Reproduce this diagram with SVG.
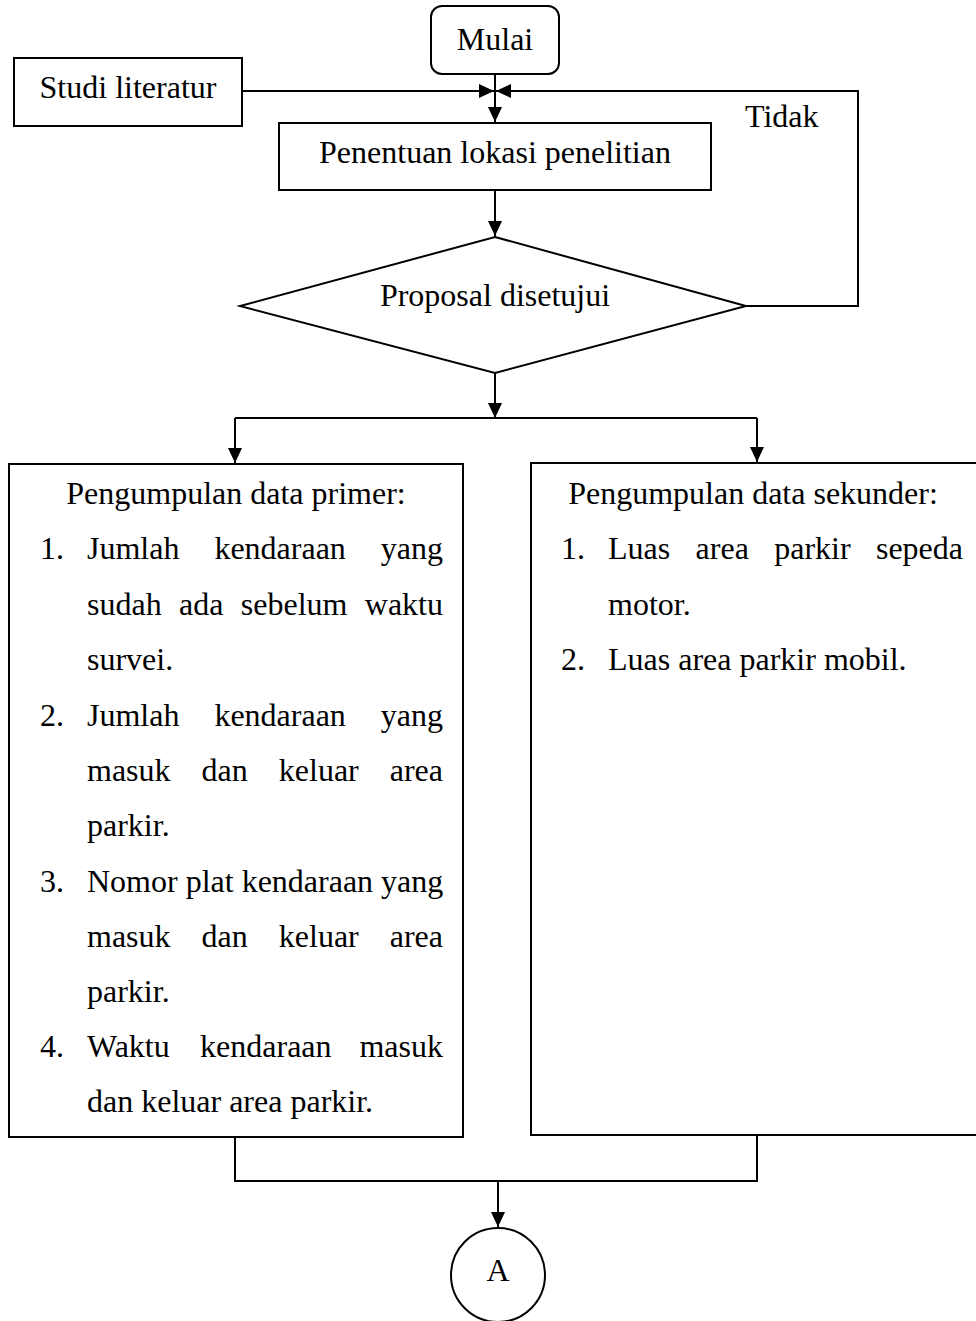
<svg xmlns="http://www.w3.org/2000/svg" width="976" height="1321" viewBox="0 0 976 1321">
<style>
.box{fill:#fff;stroke:#000;stroke-width:2}
.ln{fill:none;stroke:#000;stroke-width:2}
text{font-family:"Liberation Serif","Times New Roman",serif;font-size:32px;fill:#000}
.c{text-anchor:middle}
.e{text-anchor:end}
</style>
<defs>
<marker id="ah" markerUnits="userSpaceOnUse" markerWidth="16" markerHeight="14" refX="15" refY="7" orient="auto">
<path d="M0,0 L15,7 L0,14 z" fill="#000"/>
</marker>
</defs>
<rect width="976" height="1321" fill="#fff"/>
<g id="connectors">
<path class="ln" d="M495,74 V122" marker-end="url(#ah)"/>
<path class="ln" d="M242,91 H494" marker-end="url(#ah)"/>
<path class="ln" d="M746,306 H858 V91 H496" marker-end="url(#ah)"/>
<path class="ln" d="M495,190 V236" marker-end="url(#ah)"/>
<path class="ln" d="M495,373 V418" marker-end="url(#ah)"/>
<path class="ln" d="M235,418 H757"/>
<path class="ln" d="M235,418 V463" marker-end="url(#ah)"/>
<path class="ln" d="M757,418 V462" marker-end="url(#ah)"/>
<path class="ln" d="M235,1137 V1181 H757 V1135"/>
<path class="ln" d="M498,1181 V1227" marker-end="url(#ah)"/>
<text x="745" y="127">Tidak</text>
</g>
<g id="mulai">
<rect class="box" x="431" y="6" width="128" height="68" rx="11"/>
<text class="c" x="495" y="50">Mulai</text>
</g>
<g id="studi">
<rect class="box" x="14" y="58" width="228" height="68"/>
<text class="c" x="128" y="98">Studi literatur</text>
</g>
<g id="penentuan">
<rect class="box" x="279" y="123" width="432" height="67"/>
<text class="c" x="495" y="163">Penentuan lokasi penelitian</text>
</g>
<g id="proposal">
<polygon class="box" points="495,237 746,306 495,373 240,306"/>
<text class="c" x="495" y="306">Proposal disetujui</text>
</g>
<g id="primer">
<rect class="box" x="9" y="464" width="454" height="673"/>
<text class="c" x="236" y="504">Pengumpulan data primer:</text>
<text x="40" y="559">1.</text>
<text y="559"><tspan x="87">Jumlah</tspan><tspan x="214.4">kendaraan</tspan><tspan x="443" class="e" text-anchor="end">yang</tspan></text>
<text y="615"><tspan x="87">sudah</tspan><tspan x="179">ada</tspan><tspan x="240.8">sebelum</tspan></text>
<text class="e" x="443" y="615">waktu</text>
<text x="87" y="670">survei.</text>
<text x="40" y="726">2.</text>
<text y="726"><tspan x="87">Jumlah</tspan><tspan x="214.4">kendaraan</tspan></text>
<text class="e" x="443" y="726">yang</text>
<text y="781"><tspan x="87">masuk</tspan><tspan x="201.6">dan</tspan><tspan x="278.8">keluar</tspan></text>
<text class="e" x="443" y="781">area</text>
<text x="87" y="836">parkir.</text>
<text x="40" y="892">3.</text>
<text x="87" y="892">Nomor plat kendaraan yang</text>
<text y="947"><tspan x="87">masuk</tspan><tspan x="201.6">dan</tspan><tspan x="278.8">keluar</tspan></text>
<text class="e" x="443" y="947">area</text>
<text x="87" y="1002">parkir.</text>
<text x="40" y="1057">4.</text>
<text y="1057"><tspan x="87">Waktu</tspan><tspan x="200.1">kendaraan</tspan></text>
<text class="e" x="443" y="1057">masuk</text>
<text x="87" y="1112">dan keluar area parkir.</text>
</g>
<g id="sekunder">
<rect class="box" x="531" y="463" width="460" height="672"/>
<text class="c" x="753" y="504">Pengumpulan data sekunder:</text>
<text x="561" y="559">1.</text>
<text y="559"><tspan x="608">Luas</tspan><tspan x="695.6">area</tspan><tspan x="774.2">parkir</tspan></text>
<text class="e" x="963" y="559">sepeda</text>
<text x="608" y="615">motor.</text>
<text x="561" y="670">2.</text>
<text x="608" y="670">Luas area parkir mobil.</text>
</g>
<g id="a">
<circle class="box" cx="498" cy="1275" r="47"/>
<text class="c" x="498" y="1281">A</text>
</g>
</svg>
